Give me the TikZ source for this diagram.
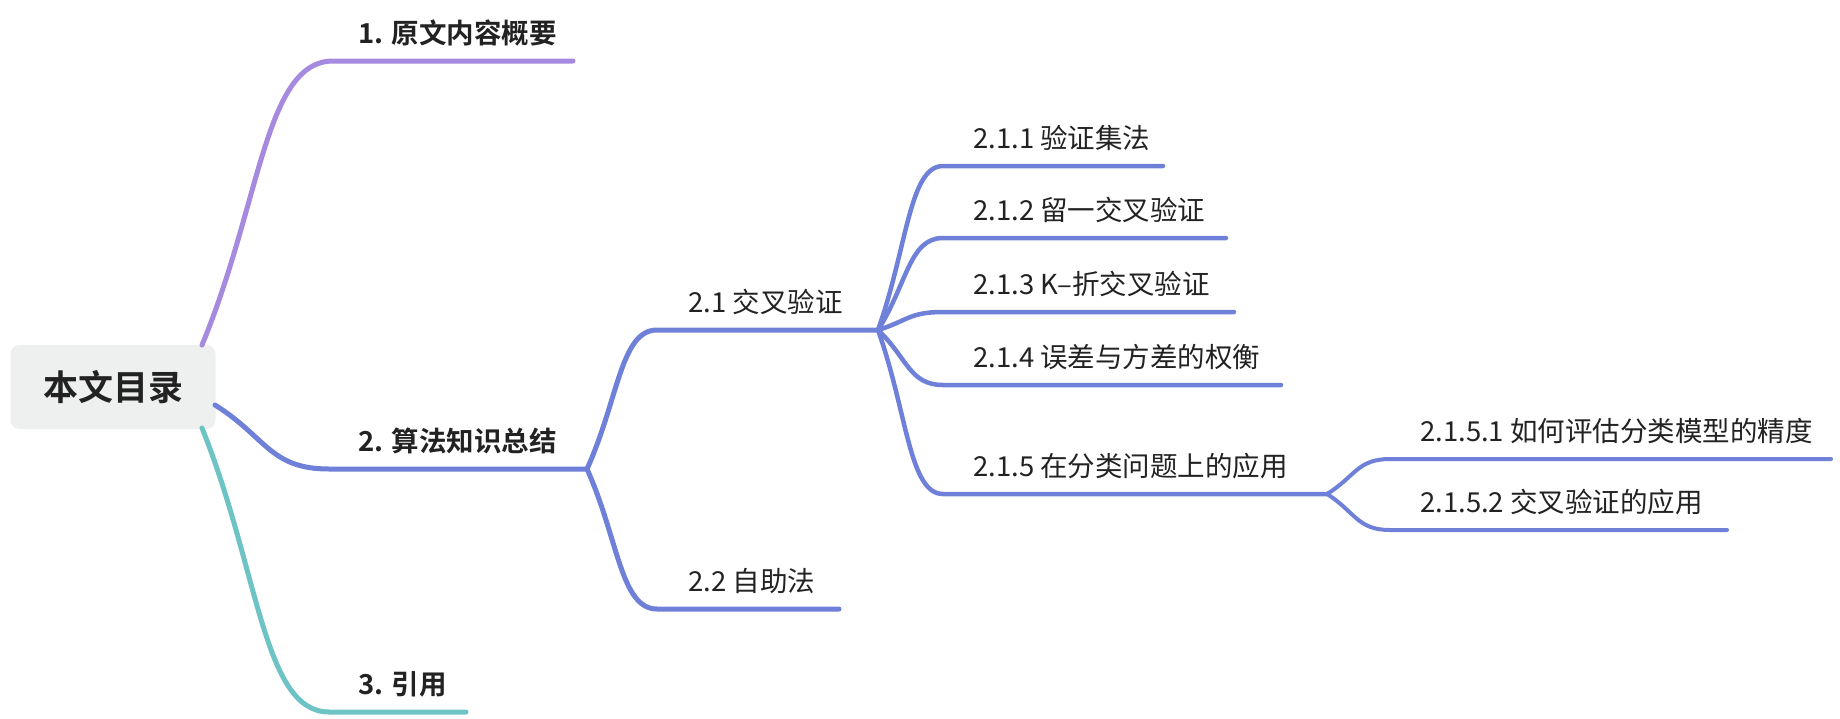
\documentclass[tikz,border=0pt]{standalone}
\usepackage{fontspec}
\setmainfont{Noto Sans CJK SC}[BoldFont={Noto Sans CJK SC Bold}]
\usetikzlibrary{calc}
\definecolor{cpurple}{HTML}{A68AE0}
\definecolor{cblue}{HTML}{6F80D9}
\definecolor{cteal}{HTML}{6EC4C4}
\definecolor{ctext}{HTML}{222222}
\definecolor{cbox}{HTML}{EEF0F0}
\begin{document}
\begin{tikzpicture}[x=1pt,y=-1pt,
  topic/.style={anchor=west, inner sep=0pt, text=ctext,
    font=\fontsize{27.5}{33}\selectfont, text height=24.2pt, text depth=3.3pt},
  major/.style={topic, font=\fontsize{27.5}{33}\selectfont\bfseries},
  conn/.style={line width=#1, line cap=round, line join=round},
  branch/.style={to path={let \p1=(\tikztostart), \p2=(\tikztotarget) in
      .. controls ({\x1+0.45*(\x2-\x1)},{\y1+0.5*(\y2-\y1)}) and ({\x1+0.48*(\x2-\x1)},{\y2}) .. (\tikztotarget)}}
]
\fill[white] (0,0) rectangle (1840,718);
\useasboundingbox (0,0) rectangle (1840,718);

% root
\node[fill=cbox, rounded corners=9pt, minimum width=205pt, minimum height=84pt,
  inner sep=0pt, text=ctext, font=\fontsize{35}{40}\selectfont\bfseries] (root) at (113,387) {本文目录};

% anchor points
\coordinate (r1) at (202,345);
\coordinate (r2) at (215,405);
\coordinate (r3) at (202,428);
\coordinate (s1) at (333,61);   \coordinate (e1) at (573,61);
\coordinate (s2) at (329,469);  \coordinate (j2) at (587,469);
\coordinate (s3) at (329,712);  \coordinate (e3) at (466,712);
\coordinate (s21) at (657,330); \coordinate (j21) at (878,330);
\coordinate (s22) at (657,609); \coordinate (e22) at (839,609);
\coordinate (s211) at (943,166); \coordinate (e211) at (1163,166);
\coordinate (s212) at (943,238); \coordinate (e212) at (1226,238);
\coordinate (s213) at (943,312); \coordinate (e213) at (1234,312);
\coordinate (s214) at (943,385); \coordinate (e214) at (1281,385);
\coordinate (s215) at (943,494); \coordinate (j215) at (1327,494);
\coordinate (s2151) at (1390,459); \coordinate (e2151) at (1831,459);
\coordinate (s2152) at (1390,530); \coordinate (e2152) at (1727,530);

% connectors
\draw[conn=5pt, cpurple] (r1) to[branch] (s1) -- (e1);
\draw[conn=5pt, cblue] (r2) to[branch] (s2) -- (j2);
\draw[conn=5pt, cteal] (r3) to[branch] (s3) -- (e3);
\draw[conn=5pt, cblue] (j2) to[branch] (s21) -- (j21);
\draw[conn=5pt, cblue] (j2) to[branch] (s22) -- (e22);
\draw[conn=4.5pt, cblue] (j21) to[branch] (s211) -- (e211);
\draw[conn=4.5pt, cblue] (j21) to[branch] (s212) -- (e212);
\draw[conn=4.5pt, cblue] (j21) to[branch] (s213) -- (e213);
\draw[conn=4.5pt, cblue] (j21) to[branch] (s214) -- (e214);
\draw[conn=4.5pt, cblue] (j21) to[branch] (s215) -- (j215);
\draw[conn=4pt, cblue] (j215) to[branch] (s2151) -- (e2151);
\draw[conn=4pt, cblue] (j215) to[branch] (s2152) -- (e2152);

% labels
\node[major] (t1) at (358,33) {1. 原文内容概要};
\node[major] (t2) at (358,441) {2. 算法知识总结};
\node[major] (t3) at (358,684) {3. 引用};
\node[topic] (t21) at (688,302) {2.1 交叉验证};
\node[topic] (t22) at (688,581) {2.2 自助法};
\node[topic] (t211) at (973,138) {2.1.1 验证集法};
\node[topic] (t212) at (973,210) {2.1.2 留一交叉验证};
\node[topic] (t213) at (973,284) {2.1.3 K–折交叉验证};
\node[topic] (t214) at (973,357) {2.1.4 误差与方差的权衡};
\node[topic] (t215) at (973,466) {2.1.5 在分类问题上的应用};
\node[topic] (t2151) at (1420,431) {2.1.5.1 如何评估分类模型的精度};
\node[topic] (t2152) at (1420,502) {2.1.5.2 交叉验证的应用};
\end{tikzpicture}
\end{document}
